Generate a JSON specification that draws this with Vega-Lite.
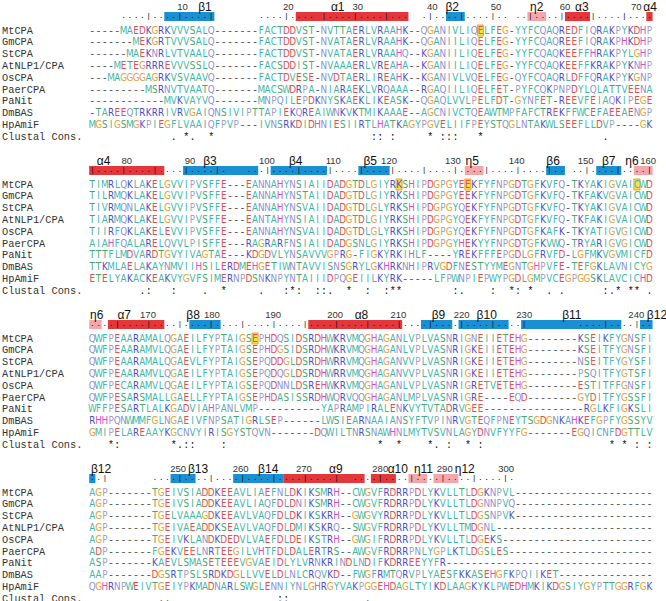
{
"$schema":"https://vega.github.io/schema/vega-lite/v6.json",
"padding":0,
"data":{"values":[
{"k":"u","b":1,"r":1,"q":[" "," "," "," "," ",".",".",".",".","|",".",".",".",".","|",".",".",".",".","|"," "," "," "," "," "," "," ",".",".",".",".","|",".",".",".","."," ","|",".",".",".",".","|",".",".",".",".","|",".",".","."," "," ",".","|",".",".",".",".","|",".",".",".",".","|",".","."," ",".",".","|",".",".",".",".","|",".",".",".",".","|",".",".",".",".","|",".",".",".","."]},
{"k":"s","b":1,"r":2,"n":"MtCPA","q":["-","-","-","-","-","M","A","E","D","K","G","R","K","V","V","V","S","A","L","Q","-","-","-","-","-","-","-","F","A","C","T","D","D","V","S","T","-","N","V","T","T","A","E","R","L","V","R","A","A","H","K","-","-","Q","G","A","N","I","V","L","I","Q","E","L","F","E","G","-","Y","Y","F","C","Q","A","Q","R","E","D","F","I","Q","R","A","K","P","Y","K","D","H","P"]},
{"k":"s","b":1,"r":3,"n":"GmCPA","q":["-","-","-","-","-","-","-","M","E","K","G","R","T","V","V","V","S","A","L","Q","-","-","-","-","-","-","-","F","A","C","T","D","D","V","S","T","-","N","V","A","T","A","E","R","L","V","R","A","A","H","K","-","-","Q","G","A","N","I","I","L","I","Q","E","L","F","E","G","-","Y","Y","F","C","Q","A","Q","R","E","E","F","I","Q","R","A","K","P","H","K","D","H","P"]},
{"k":"s","b":1,"r":4,"n":"StCPA","q":["-","-","-","-","-","-","M","A","E","K","N","R","L","V","T","V","A","A","L","Q","-","-","-","-","-","-","-","F","A","C","T","D","D","V","S","T","-","N","V","A","T","A","E","R","L","V","R","A","A","H","Q","-","-","K","G","A","N","I","I","L","I","Q","E","L","F","E","G","-","Y","Y","F","C","Q","A","Q","K","E","E","F","F","H","R","A","K","P","Y","L","G","H","P"]},
{"k":"s","b":1,"r":5,"n":"AtNLP1/CPA","q":["-","-","-","-","M","E","T","E","G","R","R","R","E","V","V","V","S","S","L","Q","-","-","-","-","-","-","-","F","A","C","S","D","D","I","S","T","-","N","V","A","A","A","E","R","L","V","R","E","A","H","A","-","-","K","G","A","N","I","I","L","I","Q","E","L","F","E","G","-","Y","Y","F","C","Q","A","Q","K","E","E","F","F","K","R","A","K","P","Y","K","N","H","P"]},
{"k":"s","b":1,"r":6,"n":"OsCPA","q":["-","-","-","M","A","G","G","G","G","A","G","R","K","V","S","V","A","A","V","Q","-","-","-","-","-","-","-","F","A","C","T","D","V","E","S","E","-","N","V","D","T","A","E","R","L","I","R","E","A","H","K","-","-","K","G","A","N","I","V","L","V","Q","E","L","F","E","G","-","Q","Y","F","C","Q","A","Q","R","L","D","F","F","Q","R","A","K","P","Y","K","G","N","P"]},
{"k":"s","b":1,"r":7,"n":"PaerCPA","q":["-","-","-","-","-","-","-","-","-","M","S","R","N","V","T","V","A","A","T","Q","-","-","-","-","-","-","-","M","A","C","S","W","D","R","P","A","-","N","I","A","R","A","E","K","L","V","R","Q","A","A","A","-","-","R","G","A","Q","I","I","L","I","Q","E","L","F","E","T","-","P","Y","F","C","Q","K","P","N","P","D","Y","L","Q","L","A","T","T","V","E","E","N","A"]},
{"k":"s","b":1,"r":8,"n":"PaNit","q":["-","-","-","-","-","-","-","-","-","-","-","-","M","V","K","V","A","Y","V","Q","-","-","-","-","-","-","-","M","N","P","Q","I","L","E","P","D","K","N","Y","S","K","A","E","K","L","I","K","E","A","S","K","-","-","Q","G","A","Q","L","V","V","L","P","E","L","F","D","T","-","G","Y","N","F","E","T","-","R","E","E","V","F","E","I","A","Q","K","I","P","E","G","E"]},
{"k":"s","b":1,"r":9,"n":"DmBAS","q":["-","T","A","R","E","E","Q","T","R","K","R","R","I","V","R","V","G","A","I","Q","N","S","I","V","I","P","T","T","A","P","I","E","K","Q","R","E","A","I","W","N","K","V","K","T","M","I","K","A","A","A","E","-","-","A","G","C","N","I","V","C","T","Q","E","A","W","T","M","P","F","A","F","C","T","R","E","K","F","F","W","C","E","F","A","E","E","A","E","N","G","P"]},
{"k":"s","b":1,"r":10,"n":"HpAmiF","q":["M","G","S","I","G","S","M","G","K","P","I","E","G","F","L","V","A","A","I","Q","F","P","V","P","-","-","-","I","V","N","S","R","K","D","I","D","H","N","I","E","S","I","I","R","T","L","H","A","T","K","A","G","Y","P","G","V","E","L","I","I","F","P","E","Y","S","T","Q","G","L","N","T","A","K","W","L","S","E","E","F","L","L","D","V","P","-","-","-","-","G","K"]},
{"k":"u","b":2,"r":1,"q":["|",".",".",".",".","|",".",".",".",".","|",".",".",".",".","|",".",".",".",".","|","."," "," "," ",".",".",".","|",".",".",".",".","|",".",".",".",".","|",".",".",".",".","|",".",".",".",".","|",".",".",".",".","|",".",".",".",".","|",".",".",".",".","|",".",".",".",".","|",".",".",".",".","|",".","."," ",".",".","|",".",".",".",".","|",".",".",".",".","|"]},
{"k":"s","b":2,"r":2,"n":"MtCPA","q":["T","I","M","R","L","Q","K","L","A","K","E","L","G","V","V","I","P","V","S","F","F","E","-","-","-","E","A","N","N","A","H","Y","N","S","I","A","I","I","D","A","D","G","T","D","L","G","I","Y","R","K","S","H","I","P","D","G","P","G","Y","E","E","K","F","Y","F","N","P","G","D","T","G","F","K","V","F","Q","-","T","K","Y","A","K","I","G","V","A","I","C","W","D"]},
{"k":"s","b":2,"r":3,"n":"GmCPA","q":["T","I","L","R","M","Q","K","L","A","K","E","L","G","V","V","I","P","V","S","F","F","E","-","-","-","E","A","N","N","A","H","Y","N","S","T","A","I","I","D","A","D","G","T","D","L","G","I","Y","R","K","S","H","I","P","D","G","P","G","Y","E","E","K","F","Y","F","N","P","G","D","T","G","F","K","V","F","Q","-","T","K","F","A","K","V","G","V","A","I","C","W","D"]},
{"k":"s","b":2,"r":4,"n":"StCPA","q":["T","I","V","R","M","Q","N","L","A","K","E","L","G","V","V","I","P","V","S","F","F","E","-","-","-","E","A","N","N","A","H","Y","N","S","V","A","I","I","D","A","D","G","T","D","L","G","L","Y","R","K","S","H","I","P","D","G","P","G","Y","Q","E","K","F","Y","F","N","P","G","D","T","G","F","K","V","F","Q","-","T","K","Y","A","K","I","G","V","A","I","C","W","D"]},
{"k":"s","b":2,"r":5,"n":"AtNLP1/CPA","q":["T","I","A","R","M","Q","K","L","A","K","E","L","G","V","V","I","P","V","S","F","F","E","-","-","-","E","A","N","T","A","H","Y","N","S","I","A","I","I","D","A","D","G","T","D","L","G","I","Y","R","K","S","H","I","P","D","G","P","G","Y","Q","E","K","F","Y","F","N","P","G","D","T","G","F","K","V","F","Q","-","T","K","F","A","K","I","G","V","A","I","C","W","D"]},
{"k":"s","b":2,"r":6,"n":"OsCPA","q":["T","I","I","R","F","Q","K","L","A","K","E","L","E","V","V","I","P","V","S","F","F","E","-","-","-","E","A","N","N","A","H","Y","N","S","V","A","I","I","D","A","D","G","T","D","L","G","L","Y","R","K","S","H","I","P","D","G","P","G","Y","Q","E","K","F","Y","F","N","P","G","D","T","G","F","K","A","F","K","-","T","K","Y","A","T","I","G","V","G","I","C","W","D"]},
{"k":"s","b":2,"r":7,"n":"PaerCPA","q":["A","I","A","H","F","Q","A","L","A","R","E","L","Q","V","V","L","P","I","S","F","F","E","-","-","-","R","A","G","R","A","R","F","N","S","I","A","I","I","D","A","D","G","S","N","L","G","I","Y","R","K","S","H","I","P","D","G","P","G","Y","H","E","K","Y","Y","F","N","P","G","D","T","G","F","K","V","W","Q","-","T","R","Y","A","R","I","G","V","G","I","C","W","D"]},
{"k":"s","b":2,"r":8,"n":"PaNit","q":["T","T","T","F","L","M","D","V","A","R","D","T","G","V","Y","I","V","A","G","T","A","E","-","-","-","K","D","G","D","V","L","Y","N","S","A","V","V","V","G","P","R","G","-","F","I","G","K","Y","R","K","I","H","L","F","-","-","-","-","Y","R","E","K","F","F","F","E","P","G","D","L","G","F","R","V","F","D","-","L","G","F","M","K","V","G","V","M","I","C","F","D"]},
{"k":"s","b":2,"r":9,"n":"DmBAS","q":["T","T","K","M","L","A","E","L","A","K","A","Y","N","M","V","I","I","H","S","I","L","E","R","D","M","E","H","G","E","T","I","W","N","T","A","V","V","I","S","N","S","G","R","Y","L","G","K","H","R","K","N","H","I","P","R","V","G","D","F","N","E","S","T","Y","Y","M","E","G","N","T","G","H","P","V","F","E","-","T","E","F","G","K","L","A","V","N","I","C","Y","G"]},
{"k":"s","b":2,"r":10,"n":"HpAmiF","q":["E","T","E","L","Y","A","K","A","C","K","E","A","K","V","Y","G","V","F","S","I","M","E","R","N","P","D","S","N","K","N","P","Y","N","T","A","I","I","I","D","P","Q","G","E","I","I","L","K","Y","R","K","-","-","-","-","-","L","F","P","W","N","P","I","E","P","W","Y","P","G","D","L","G","M","P","V","C","E","G","P","G","G","S","K","L","A","V","C","I","C","H","D"]},
{"k":"u","b":3,"r":1,"q":[".",".",".",".","|",".",".",".",".","|",".",".",".",".","|",".",".",".",".","|",".",".",".",".","|",".",".",".",".","|",".",".",".",".","|",".",".",".",".","|",".",".",".",".","|",".",".",".",".","|",".",".",".",".","|",".",".",".",".","|",".",".",".",".","|",".",".",".",".","|"," "," "," "," "," "," "," "," ",".",".",".",".","|",".",".",".",".","|",".","."]},
{"k":"s","b":3,"r":2,"n":"MtCPA","q":["Q","W","F","P","E","A","A","R","A","M","A","L","Q","G","A","E","I","L","F","Y","P","T","A","I","G","S","E","P","H","D","Q","S","I","D","S","R","D","H","W","K","R","V","M","Q","G","H","A","G","A","N","L","V","P","L","V","A","S","N","R","I","G","N","E","I","I","E","T","E","H","G","-","-","-","-","-","-","-","-","K","S","E","I","K","F","Y","G","N","S","F","I"]},
{"k":"s","b":3,"r":3,"n":"GmCPA","q":["Q","W","F","P","E","A","A","R","A","M","V","L","Q","G","A","E","I","L","F","Y","P","T","A","I","G","S","E","P","H","D","G","S","I","D","S","R","D","H","W","K","R","V","M","Q","G","H","A","G","A","N","L","V","P","L","V","A","S","N","R","I","G","K","E","I","I","E","T","E","H","G","-","-","-","-","-","-","-","-","K","S","E","I","T","F","Y","G","N","S","F","I"]},
{"k":"s","b":3,"r":4,"n":"StCPA","q":["Q","W","F","P","E","A","A","R","A","M","A","L","Q","G","A","E","V","L","F","Y","P","T","A","I","G","S","E","P","Q","D","D","G","L","D","S","R","D","H","W","R","R","V","M","Q","G","H","A","G","A","N","V","V","P","L","V","A","S","N","R","I","G","K","E","I","I","E","T","E","H","G","-","-","-","-","-","-","-","-","N","S","E","I","T","F","Y","G","Y","S","F","I"]},
{"k":"s","b":3,"r":5,"n":"AtNLP1/CPA","q":["Q","W","F","P","E","A","A","R","A","M","V","L","Q","G","A","E","I","L","F","Y","P","T","A","I","G","S","E","P","Q","D","Q","G","L","D","S","R","D","H","W","R","R","V","M","Q","G","H","A","G","A","N","V","V","P","L","V","A","S","N","R","I","G","K","E","I","I","E","T","E","H","G","-","-","-","-","-","-","-","-","P","S","Q","I","T","F","Y","G","T","S","F","I"]},
{"k":"s","b":3,"r":6,"n":"OsCPA","q":["Q","W","F","P","E","C","A","R","A","M","V","L","Q","G","A","E","I","L","F","Y","P","T","A","I","G","S","E","P","Q","D","N","N","L","D","S","R","E","H","W","K","R","V","M","Q","G","H","A","G","A","N","L","V","P","L","V","A","S","N","R","I","G","R","E","T","V","E","T","E","H","G","-","-","-","-","-","-","-","-","E","S","T","I","T","F","F","G","N","S","F","I"]},
{"k":"s","b":3,"r":7,"n":"PaerCPA","q":["Q","W","F","P","E","S","A","R","S","M","A","L","L","G","A","E","L","L","F","Y","P","T","A","I","G","S","E","P","H","D","A","S","I","S","S","R","D","H","W","Q","R","V","Q","Q","G","H","A","G","A","N","L","M","P","L","V","A","S","N","R","I","G","R","E","-","-","-","-","E","Q","D","-","-","-","-","-","-","-","-","G","Y","D","I","T","F","Y","G","S","S","F","I"]},
{"k":"s","b":3,"r":8,"n":"PaNit","q":["W","F","F","P","E","S","A","R","T","L","A","L","K","G","A","D","V","I","A","H","P","A","N","L","V","M","P","-","-","-","-","-","-","-","-","-","-","Y","A","P","R","A","M","P","I","R","A","L","E","N","K","V","Y","T","V","T","A","D","R","V","G","E","E","-","-","-","-","-","-","-","-","-","-","-","-","-","-","-","-","R","G","L","K","F","I","G","K","S","L","I"]},
{"k":"s","b":3,"r":9,"n":"DmBAS","q":["R","H","H","P","Q","N","W","M","M","F","G","L","N","G","A","E","I","V","F","N","P","S","A","T","I","G","R","L","S","E","P","-","-","-","-","-","-","L","W","S","I","E","A","R","N","A","A","I","A","N","S","Y","F","T","V","P","I","N","R","V","G","T","E","Q","F","P","N","E","Y","T","S","G","D","G","N","K","A","H","K","E","F","G","P","F","Y","G","S","S","Y","V"]},
{"k":"s","b":3,"r":10,"n":"HpAmiF","q":["G","M","I","P","E","L","A","R","E","A","A","Y","K","G","C","N","V","Y","I","R","I","S","G","Y","S","T","Q","V","N","-","-","-","-","-","-","-","D","Q","W","I","L","T","N","R","S","N","A","W","H","N","L","M","Y","T","V","S","V","N","L","A","G","Y","D","N","V","F","Y","Y","F","G","-","-","-","-","-","-","-","E","G","Q","I","C","N","F","D","G","T","T","L","V"]},
{"k":"u","b":4,"r":1,"q":[".",".","|"," "," "," "," "," "," "," ",".",".",".",".","|",".",".",".",".","|",".",".",".",".","|",".",".",".",".","|",".",".",".",".","|",".",".",".",".","|"," "," ",".",".",".",".","|",".",".",".",".","|",".",".",".",".","|",".",".",".",".","|",".",".",".",".","|","."," "," "," "," "," "," "," "," "," "," "," "," "," "," "," "," "," "," "," "," "," "," "]},
{"k":"s","b":4,"r":2,"n":"MtCPA","q":["A","G","P","-","-","-","-","-","-","-","T","G","E","I","V","S","I","A","D","D","K","E","E","A","V","L","I","A","E","F","N","L","D","K","I","K","S","M","R","H","-","-","C","W","G","V","F","R","D","R","R","P","D","L","Y","K","V","L","L","T","L","D","G","K","N","P","V","L","-","-","-","-","-","-","-","-","-","-","-","-","-","-","-","-","-","-","-","-","-","-"]},
{"k":"s","b":4,"r":3,"n":"GmCPA","q":["A","G","P","-","-","-","-","-","-","-","T","G","E","I","V","S","I","A","D","D","K","E","E","A","V","L","I","A","Q","F","D","L","D","N","I","K","S","M","R","H","-","-","C","W","G","V","F","R","D","R","R","P","D","L","Y","K","V","L","L","T","L","D","G","N","N","P","V","Q","-","-","-","-","-","-","-","-","-","-","-","-","-","-","-","-","-","-","-","-","-","-"]},
{"k":"s","b":4,"r":4,"n":"StCPA","q":["A","G","P","-","-","-","-","-","-","-","T","G","E","L","V","A","A","A","G","D","K","E","E","A","V","L","V","A","Q","F","D","L","D","K","I","K","S","K","R","H","-","-","G","W","G","V","Y","R","D","R","R","P","D","L","Y","K","V","L","L","T","L","D","G","S","N","P","V","K","-","-","-","-","-","-","-","-","-","-","-","-","-","-","-","-","-","-","-","-","-","-"]},
{"k":"s","b":4,"r":5,"n":"AtNLP1/CPA","q":["A","G","P","-","-","-","-","-","-","-","T","G","E","I","V","A","E","A","D","D","K","S","E","A","V","L","V","A","Q","F","D","L","D","M","I","K","S","K","R","Q","-","-","S","W","G","V","F","R","D","R","R","P","D","L","Y","K","V","L","L","T","M","D","G","N","L","-","-","-","-","-","-","-","-","-","-","-","-","-","-","-","-","-","-","-","-","-","-","-","-","-"]},
{"k":"s","b":4,"r":6,"n":"OsCPA","q":["A","G","P","-","-","-","-","-","-","-","T","G","E","I","V","K","L","A","N","D","K","D","E","D","V","L","V","A","E","F","D","L","D","E","I","K","S","T","R","H","-","-","G","W","G","I","F","R","D","R","R","P","D","L","Y","K","V","L","L","T","L","D","G","E","K","S","-","-","-","-","-","-","-","-","-","-","-","-","-","-","-","-","-","-","-","-","-","-","-","-"]},
{"k":"s","b":4,"r":7,"n":"PaerCPA","q":["A","D","P","-","-","-","-","-","-","-","F","G","E","K","V","E","E","L","N","R","T","E","E","G","I","L","V","H","T","F","D","L","D","A","L","E","R","T","R","S","-","-","A","W","G","V","F","R","D","R","R","P","N","L","Y","G","P","L","K","T","L","D","G","S","L","E","S","-","-","-","-","-","-","-","-","-","-","-","-","-","-","-","-","-","-","-","-","-","-","-"]},
{"k":"s","b":4,"r":8,"n":"PaNit","q":["A","S","P","-","-","-","-","-","-","-","K","A","E","V","L","S","M","A","S","E","T","E","E","E","V","G","V","A","E","I","D","L","Y","L","V","R","N","K","R","I","N","D","L","N","D","I","F","K","D","R","R","E","E","Y","Y","F","R","-","-","-","-","-","-","-","-","-","-","-","-","-","-","-","-","-","-","-","-","-","-","-","-","-","-","-","-","-","-","-","-","-"]},
{"k":"s","b":4,"r":9,"n":"DmBAS","q":["A","A","P","-","-","-","-","-","-","-","D","G","S","R","T","P","S","L","S","R","D","K","D","G","L","L","V","V","E","L","D","L","N","L","C","R","Q","V","K","D","-","-","F","W","G","F","R","M","T","Q","R","V","P","L","Y","A","E","S","F","K","K","A","S","E","H","G","F","K","P","Q","I","I","K","E","T","-","-","-","-","-","-","-","-","-","-","-","-","-","-","-"]},
{"k":"s","b":4,"r":10,"n":"HpAmiF","q":["Q","G","H","R","N","P","W","E","I","V","T","G","E","I","Y","P","K","M","A","D","N","A","R","L","S","W","G","L","E","N","N","I","Y","N","L","G","H","R","G","Y","V","A","K","P","G","G","E","H","D","A","G","L","T","Y","I","K","D","L","A","A","G","K","Y","K","L","P","W","E","D","H","M","K","I","K","D","G","S","I","Y","G","Y","P","T","T","G","G","R","F","G","K"]},
{"k":"n","b":1,"r":11,"n":"Clustal Cons."},
{"k":"n","b":2,"r":11,"n":"Clustal Cons."},
{"k":"n","b":3,"r":11,"n":"Clustal Cons."},
{"k":"n","b":4,"r":11,"n":"Clustal Cons."},
{"k":"c","b":1,"c":14,"t":"."},{"k":"c","b":1,"c":16,"t":"*"},{"k":"c","b":1,"c":17,"t":"."},{"k":"c","b":1,"c":20,"t":"*"},{"k":"c","b":1,"c":46,"t":":"},{"k":"c","b":1,"c":47,"t":":"},{"k":"c","b":1,"c":49,"t":":"},{"k":"c","b":1,"c":55,"t":"*"},{"k":"c","b":1,"c":57,"t":":"},{"k":"c","b":1,"c":58,"t":":"},{"k":"c","b":1,"c":59,"t":":"},{"k":"c","b":1,"c":63,"t":"*"},{"k":"c","b":1,"c":83,"t":"."},
{"k":"c","b":2,"c":9,"t":"."},{"k":"c","b":2,"c":10,"t":":"},{"k":"c","b":2,"c":14,"t":":"},{"k":"c","b":2,"c":19,"t":"."},{"k":"c","b":2,"c":22,"t":"*"},{"k":"c","b":2,"c":28,"t":"."},{"k":"c","b":2,"c":32,"t":":"},{"k":"c","b":2,"c":33,"t":"*"},{"k":"c","b":2,"c":34,"t":":"},{"k":"c","b":2,"c":37,"t":":"},{"k":"c","b":2,"c":38,"t":":"},{"k":"c","b":2,"c":39,"t":"."},{"k":"c","b":2,"c":42,"t":"*"},{"k":"c","b":2,"c":45,"t":":"},{"k":"c","b":2,"c":48,"t":":"},{"k":"c","b":2,"c":49,"t":"*"},{"k":"c","b":2,"c":50,"t":"*"},{"k":"c","b":2,"c":59,"t":":"},{"k":"c","b":2,"c":60,"t":"."},{"k":"c","b":2,"c":65,"t":":"},{"k":"c","b":2,"c":68,"t":"*"},{"k":"c","b":2,"c":69,"t":":"},{"k":"c","b":2,"c":71,"t":"*"},{"k":"c","b":2,"c":74,"t":"."},{"k":"c","b":2,"c":76,"t":"."},{"k":"c","b":2,"c":83,"t":":"},{"k":"c","b":2,"c":84,"t":"."},{"k":"c","b":2,"c":85,"t":"*"},{"k":"c","b":2,"c":87,"t":"*"},{"k":"c","b":2,"c":88,"t":"*"},{"k":"c","b":2,"c":90,"t":"."},
{"k":"c","b":3,"c":4,"t":"*"},{"k":"c","b":3,"c":5,"t":":"},{"k":"c","b":3,"c":14,"t":"*"},{"k":"c","b":3,"c":15,"t":"."},{"k":"c","b":3,"c":16,"t":":"},{"k":"c","b":3,"c":17,"t":":"},{"k":"c","b":3,"c":22,"t":":"},{"k":"c","b":3,"c":47,"t":"*"},{"k":"c","b":3,"c":50,"t":"*"},{"k":"c","b":3,"c":55,"t":"*"},{"k":"c","b":3,"c":56,"t":"."},{"k":"c","b":3,"c":58,"t":":"},{"k":"c","b":3,"c":61,"t":"*"},{"k":"c","b":3,"c":63,"t":":"},{"k":"c","b":3,"c":84,"t":"*"},{"k":"c","b":3,"c":86,"t":"*"},{"k":"c","b":3,"c":88,"t":":"},{"k":"c","b":3,"c":90,"t":":"},
{"k":"c","b":4,"c":12,"t":"."},{"k":"c","b":4,"c":13,"t":"."},{"k":"c","b":4,"c":31,"t":":"},{"k":"c","b":4,"c":32,"t":":"},{"k":"c","b":4,"c":45,"t":"."},
{"k":"ss","b":1,"s":12.5,"e":20.5,"t":"b"},{"k":"ss","b":1,"s":33.5,"e":51.5,"t":"a"},{"k":"ss","b":1,"s":57.5,"e":60.5,"t":"b"},{"k":"ss","b":1,"s":70.5,"e":73.5,"t":"e"},{"k":"ss","b":1,"s":76.5,"e":80.5,"t":"a"},{"k":"ss","b":1,"s":89.5,"e":90.5,"t":"a"},
{"k":"ss","b":2,"s":0.5,"e":12.5,"t":"a"},{"k":"ss","b":2,"s":15.5,"e":27.5,"t":"b"},{"k":"ss","b":2,"s":29.5,"e":38.5,"t":"b"},{"k":"ss","b":2,"s":43.5,"e":48.5,"t":"b"},{"k":"ss","b":2,"s":60.5,"e":63.5,"t":"e"},{"k":"ss","b":2,"s":73.5,"e":76.5,"t":"b"},{"k":"ss","b":2,"s":81.5,"e":85.5,"t":"b"},{"k":"ss","b":2,"s":87.5,"e":90.5,"t":"e"},
{"k":"ss","b":3,"s":0.5,"e":2.5,"t":"e"},{"k":"ss","b":3,"s":3.5,"e":12.5,"t":"a"},{"k":"ss","b":3,"s":16.5,"e":21.5,"t":"b"},{"k":"ss","b":3,"s":35.5,"e":50.5,"t":"a"},{"k":"ss","b":3,"s":53.5,"e":58.5,"t":"b"},{"k":"ss","b":3,"s":59.5,"e":67.5,"t":"b"},{"k":"ss","b":3,"s":69.5,"e":85.5,"t":"b"},{"k":"ss","b":3,"s":88.5,"e":90.5,"t":"b"},
{"k":"ss","b":4,"s":0.5,"e":1.5,"t":"b"},{"k":"ss","b":4,"s":13.5,"e":17.5,"t":"b"},{"k":"ss","b":4,"s":23.5,"e":31.5,"t":"b"},{"k":"ss","b":4,"s":31.5,"e":44.5,"t":"a"},{"k":"ss","b":4,"s":45.5,"e":49.5,"t":"a"},{"k":"ss","b":4,"s":51.5,"e":54.5,"t":"e"},{"k":"ss","b":4,"s":55.5,"e":59.5,"t":"e"},
{"k":"h","b":1,"r":2,"c":63},{"k":"h","b":2,"r":2,"c":50},{"k":"h","b":2,"r":2,"c":61},{"k":"h","b":2,"r":2,"c":88},{"k":"h","b":3,"r":2,"c":27},
{"k":"l","b":1,"c":19.0,"t":"β1"},{"k":"l","b":1,"c":40.2,"t":"α1"},{"k":"l","b":1,"c":58.5,"t":"β2"},{"k":"l","b":1,"c":72.0,"t":"η2"},{"k":"l","b":1,"c":79.2,"t":"α3"},{"k":"l","b":1,"c":90.1,"t":"α4"},
{"k":"l","b":2,"c":2.8,"t":"α4"},{"k":"l","b":2,"c":19.8,"t":"β3"},{"k":"l","b":2,"c":33.5,"t":"β4"},{"k":"l","b":2,"c":45.4,"t":"β5"},{"k":"l","b":2,"c":61.7,"t":"η5"},{"k":"l","b":2,"c":74.6,"t":"β6"},{"k":"l","b":2,"c":83.5,"t":"β7"},{"k":"l","b":2,"c":87.2,"t":"η6"},
{"k":"l","b":3,"c":1.7,"t":"η6"},{"k":"l","b":3,"c":6.1,"t":"α7"},{"k":"l","b":3,"c":17.1,"t":"β8"},{"k":"l","b":3,"c":44.0,"t":"α8"},{"k":"l","b":3,"c":56.3,"t":"β9"},{"k":"l","b":3,"c":64.0,"t":"β10"},{"k":"l","b":3,"c":77.6,"t":"β11"},{"k":"l","b":3,"c":91.2,"t":"β12"},
{"k":"l","b":4,"c":2.4,"t":"β12"},{"k":"l","b":4,"c":17.9,"t":"β13"},{"k":"l","b":4,"c":29.1,"t":"β14"},{"k":"l","b":4,"c":39.9,"t":"α9"},{"k":"l","b":4,"c":49.8,"t":"α10"},{"k":"l","b":4,"c":53.9,"t":"η11"},{"k":"l","b":4,"c":60.5,"t":"η12"},
{"k":"m","b":1,"c":15.4,"t":"10"},{"k":"m","b":1,"c":32.3,"t":"20"},{"k":"m","b":1,"c":43.4,"t":"30"},{"k":"m","b":1,"c":55.3,"t":"40"},{"k":"m","b":1,"c":65.5,"t":"50"},{"k":"m","b":1,"c":76.5,"t":"60"},{"k":"m","b":1,"c":87.9,"t":"70"},
{"k":"m","b":2,"c":6.5,"t":"80"},{"k":"m","b":2,"c":16.6,"t":"90"},{"k":"m","b":2,"c":28.9,"t":"100"},{"k":"m","b":2,"c":39.5,"t":"110"},{"k":"m","b":2,"c":48.4,"t":"120"},{"k":"m","b":2,"c":58.6,"t":"130"},{"k":"m","b":2,"c":68.8,"t":"140"},{"k":"m","b":2,"c":79.8,"t":"150"},{"k":"m","b":2,"c":89.8,"t":"160"},
{"k":"m","b":3,"c":9.9,"t":"170"},{"k":"m","b":3,"c":20.1,"t":"180"},{"k":"m","b":3,"c":29.9,"t":"190"},{"k":"m","b":3,"c":39.8,"t":"200"},{"k":"m","b":3,"c":49.9,"t":"210"},{"k":"m","b":3,"c":60.0,"t":"220"},{"k":"m","b":3,"c":70.0,"t":"230"},{"k":"m","b":3,"c":87.9,"t":"240"},
{"k":"m","b":4,"c":14.7,"t":"250"},{"k":"m","b":4,"c":24.7,"t":"260"},{"k":"m","b":4,"c":34.8,"t":"270"},{"k":"m","b":4,"c":47.0,"t":"280"},{"k":"m","b":4,"c":57.3,"t":"290"},{"k":"m","b":4,"c":67.1,"t":"300"}
]},
"facet":{"row":{"field":"b","type":"ordinal","title":null,"header":{"labels":false,"title":null}}},
"spacing":0,
"spec":{
"width":666,"height":153.2,
"layer":[
{"transform":[{"filter":{"field":"k","equal":"ss"}}],
 "mark":{"type":"rect"},
 "encoding":{
  "x":{"field":"s","type":"quantitative","scale":{"domain":[-13.744,92.645],"nice":false,"zero":false},"axis":null},
  "x2":{"field":"e"},
  "y":{"datum":0.43,"type":"quantitative","scale":{"domain":[-0.585,12.398],"reverse":true,"nice":false,"zero":false},"axis":null},
  "y2":{"datum":1.2},
  "fill":{"field":"t","type":"nominal","scale":{"domain":["a","b","e"],"range":["#e4373c","#1a8fd1","#f4a7ab"]},"legend":null}}},
{"transform":[{"filter":{"field":"k","equal":"h"}}],
 "mark":{"type":"point","shape":"M-0.55,-1L0.55,-1L0.55,1L-0.55,1Z","filled":true,"size":121,"fill":"#f7e34b","stroke":"#eca42c","strokeWidth":1,"opacity":1},
 "encoding":{
  "x":{"field":"c","type":"quantitative","scale":{"domain":[-13.744,92.645],"nice":false,"zero":false},"axis":null},
  "y":{"field":"r","type":"quantitative","scale":{"domain":[-0.585,12.398],"reverse":true,"nice":false,"zero":false},"axis":null}}},
{"transform":[{"filter":{"field":"k","equal":"s"}},{"flatten":["q"],"as":["ch"]},{"window":[{"op":"row_number","as":"c"}],"groupby":["b","r"]},{"filter":"datum.ch !== '-'"}],
 "mark":{"type":"text","font":"Liberation Sans Narrow, DejaVu Sans Condensed, Liberation Sans","fontSize":9.8,"baseline":"middle","align":"center"},
 "encoding":{
  "x":{"field":"c","type":"quantitative","scale":{"domain":[-13.744,92.645],"nice":false,"zero":false},"axis":null},
  "y":{"field":"r","type":"quantitative","scale":{"domain":[-0.585,12.398],"reverse":true,"nice":false,"zero":false},"axis":null},
  "text":{"field":"ch"},
  "color":{"field":"ch","type":"nominal","legend":null,"scale":{"domain":["A","C","D","E","F","G","H","I","K","L","M","N","P","Q","R","S","T","V","W","Y"],"range":["#3fb8a6","#3fb8a6","#e0514f","#e0514f","#3fb8a6","#e5a33e","#cf52c9","#3fb8a6","#4d4dc6","#3fb8a6","#3fb8a6","#8e8ed0","#a39fbf","#8e8ed0","#4d4dc6","#49a76c","#49a76c","#3fb8a6","#3fb8a6","#3fb8a6"]}}}},
{"transform":[{"filter":{"field":"k","equal":"s"}},{"flatten":["q"],"as":["ch"]},{"window":[{"op":"row_number","as":"c"}],"groupby":["b","r"]},{"filter":"datum.ch === '-'"}],
 "mark":{"type":"text","font":"Liberation Mono","fontSize":10,"baseline":"middle","align":"center","color":"#555555"},
 "encoding":{
  "x":{"field":"c","type":"quantitative","scale":{"domain":[-13.744,92.645],"nice":false,"zero":false},"axis":null},
  "y":{"field":"r","type":"quantitative","scale":{"domain":[-0.585,12.398],"reverse":true,"nice":false,"zero":false},"axis":null},
  "text":{"field":"ch"}}},
{"transform":[{"filter":{"field":"k","equal":"u"}},{"flatten":["q"],"as":["ch"]},{"window":[{"op":"row_number","as":"c"}],"groupby":["b","r"]}],
 "mark":{"type":"text","font":"Liberation Mono","fontSize":8,"baseline":"alphabetic","align":"center","dy":-1,"color":"#111111"},
 "encoding":{
  "x":{"field":"c","type":"quantitative","scale":{"domain":[-13.744,92.645],"nice":false,"zero":false},"axis":null},
  "y":{"field":"r","type":"quantitative","scale":{"domain":[-0.585,12.398],"reverse":true,"nice":false,"zero":false},"axis":null},
  "text":{"field":"ch"}}},
{"transform":[{"filter":{"field":"k","equal":"c"}}],
 "mark":{"type":"text","font":"Liberation Mono","fontSize":10,"baseline":"middle","align":"center","color":"#111111"},
 "encoding":{
  "x":{"field":"c","type":"quantitative","scale":{"domain":[-13.744,92.645],"nice":false,"zero":false},"axis":null},
  "y":{"datum":11,"type":"quantitative","scale":{"domain":[-0.585,12.398],"reverse":true,"nice":false,"zero":false},"axis":null},
  "text":{"field":"t"}}},
{"transform":[{"filter":{"field":"k","oneOf":["s","n"]}}],
 "mark":{"type":"text","font":"Liberation Mono","fontSize":10.3,"baseline":"middle","align":"left","color":"#333333"},
 "encoding":{
  "x":{"datum":-13.42,"type":"quantitative","scale":{"domain":[-13.744,92.645],"nice":false,"zero":false},"axis":null},
  "y":{"field":"r","type":"quantitative","scale":{"domain":[-0.585,12.398],"reverse":true,"nice":false,"zero":false},"axis":null},
  "text":{"field":"n"}}},
{"transform":[{"filter":{"field":"k","equal":"l"}}],
 "mark":{"type":"text","font":"Liberation Sans","fontSize":12,"baseline":"middle","align":"center","color":"#111111"},
 "encoding":{
  "x":{"field":"c","type":"quantitative","scale":{"domain":[-13.744,92.645],"nice":false,"zero":false},"axis":null},
  "y":{"datum":0,"type":"quantitative","scale":{"domain":[-0.585,12.398],"reverse":true,"nice":false,"zero":false},"axis":null},
  "text":{"field":"t"}}},
{"transform":[{"filter":{"field":"k","equal":"m"}}],
 "mark":{"type":"text","font":"Liberation Sans","fontSize":9.5,"baseline":"middle","align":"center","color":"#333333"},
 "encoding":{
  "x":{"field":"c","type":"quantitative","scale":{"domain":[-13.744,92.645],"nice":false,"zero":false},"axis":null},
  "y":{"datum":0,"type":"quantitative","scale":{"domain":[-0.585,12.398],"reverse":true,"nice":false,"zero":false},"axis":null},
  "text":{"field":"t"}}}
]},
"config":{"view":{"stroke":null},"facet":{"spacing":0}}
}
